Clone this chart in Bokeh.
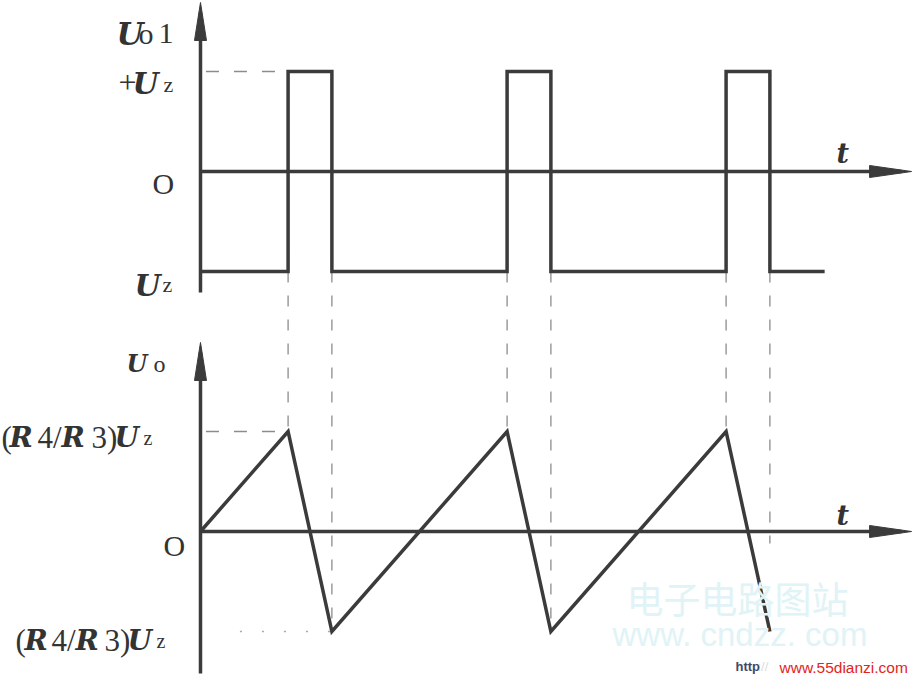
from bokeh.plotting import figure
from bokeh.models import Range1d, ColumnDataSource
from bokeh.embed import file_html
from bokeh.resources import INLINE

# ---------------- data (time in units, voltages in units of Uz / (R4/R3)Uz) -------------
rise_t = [4, 14, 24]
fall_t = [6, 16, 26]
sq_t = [0, 4, 4, 6, 6, 14, 14, 16, 16, 24, 24, 26, 26, 28.5]
sq_v = [-1, -1, 1, 1, -1, -1, 1, 1, -1, -1, 1, 1, -1, -1]
tri_t = [0, 4, 6, 14, 16, 24, 26]
tri_v = [0, 1, -1, 1, -1, 1, -1]
rise_conn_end = [1, 1, 1]
fall_conn_end = [-1, -1, -0.12]

# ---------------- layout --------------------------------------------------------------
W, H = 914, 676
x_start, x_end = -9.132, 32.603
top_start, top_end = -5.05, 1.71
bot_start, bot_end = -1.45, 5.31
ppt = W / (x_end - x_start)
ppv_top = H / (top_end - top_start)
ppv_bot = H / (bot_end - bot_start)

LINE = "#3b3b3b"
DASH = "#8c8c8c"
LW = 3.5

p = figure(width=W, height=H, output_backend="svg", toolbar_location=None,
           x_range=Range1d(x_start, x_end), y_range=Range1d(top_start, top_end),
           min_border=0, min_border_left=0, min_border_right=0,
           min_border_top=0, min_border_bottom=0)
p.extra_y_ranges = {"bot": Range1d(bot_start, bot_end),
                    "refy": Range1d(676, 0)}
p.extra_x_ranges = {"refx": Range1d(0, 914)}
p.axis.visible = False
p.grid.visible = False
p.outline_line_color = None
p.background_fill_color = "white"
p.border_fill_color = "white"

# ---------------- axes with arrows ------------------------------------------------------
top_axis = (-1.21, 1.69)
bot_axis = (-1.42, 1.89)
t_axis_end = 32.47
L_v, hw_v = 38, 6.0
L_h, hh_h = 42, 6.0

# top panel axes
p.line([0, 0], [top_axis[0], top_axis[1] - 10 / ppv_top], line_color=LINE, line_width=LW)
p.line([0, t_axis_end - 10 / ppt], [0, 0], line_color=LINE, line_width=LW)
p.patch([0, -hw_v / ppt, hw_v / ppt],
        [top_axis[1], top_axis[1] - L_v / ppv_top, top_axis[1] - L_v / ppv_top],
        fill_color=LINE, line_color=LINE, line_width=1)
p.patch([t_axis_end, t_axis_end - L_h / ppt, t_axis_end - L_h / ppt],
        [0, hh_h / ppv_top, -hh_h / ppv_top],
        fill_color=LINE, line_color=LINE, line_width=1)

# bottom panel axes
p.line([0, 0], [bot_axis[0], bot_axis[1] - 10 / ppv_bot], line_color=LINE, line_width=LW,
       y_range_name="bot")
p.line([0, t_axis_end - 10 / ppt], [0, 0], line_color=LINE, line_width=LW, y_range_name="bot")
p.patch([0, -hw_v / ppt, hw_v / ppt],
        [bot_axis[1], bot_axis[1] - L_v / ppv_bot, bot_axis[1] - L_v / ppv_bot],
        fill_color=LINE, line_color=LINE, line_width=1, y_range_name="bot")
p.patch([t_axis_end, t_axis_end - L_h / ppt, t_axis_end - L_h / ppt],
        [0, hh_h / ppv_bot, -hh_h / ppv_bot],
        fill_color=LINE, line_color=LINE, line_width=1, y_range_name="bot")

# ---------------- dashed guide lines ----------------------------------------------------
# value of the top panel's -1 level expressed in the bottom panel's range
fy_low = (top_end - (-1)) * ppv_top
low_in_bot = bot_end - fy_low / ppv_bot
p.segment(x0=rise_t, y0=[low_in_bot] * 3, x1=rise_t, y1=rise_conn_end,
          line_color=DASH, line_width=1.3, line_dash="11 13", y_range_name="bot")
p.segment(x0=fall_t, y0=[low_in_bot] * 3, x1=fall_t, y1=fall_conn_end,
          line_color=DASH, line_width=1.3, line_dash="11 13", y_range_name="bot")
p.segment(x0=[0.25], y0=[1], x1=[rise_t[0]], y1=[1],
          line_color=DASH, line_width=1.3, line_dash="13 15")
p.segment(x0=[0.25], y0=[1], x1=[rise_t[0]], y1=[1],
          line_color=DASH, line_width=1.3, line_dash="13 15", y_range_name="bot")
p.segment(x0=[1.8], y0=[-1], x1=[fall_t[0]], y1=[-1],
          line_color="#a8a8a8", line_width=1.3, line_dash="2 20", y_range_name="bot")

# ---------------- waveforms --------------------------------------------------------------
p.line(sq_t, sq_v, line_color=LINE, line_width=LW, line_join="miter")
p.line(tri_t, tri_v, line_color=LINE, line_width=LW, line_join="miter", y_range_name="bot")

# ---------------- texts -------------------------------------------------------------------
SERIF = "Liberation Serif"
DVS = "DejaVu Serif"
SANS = "Liberation Sans"
BI, N = "bold italic", "normal"
INK = "#333333"
pieces = [
    # text, x, baseline, size, style, color, font
    ("U", 116, 33, 31, BI, INK, DVS),
    ("o", 138, 33, 30, N, INK, SERIF),
    ("1", 158, 33, 30, N, INK, SERIF),
    ("+", 118, 82, 32, N, INK, SERIF),
    ("U", 132, 83, 30, BI, INK, DVS),
    ("z", 163, 84, 22, N, INK, SERIF),
    ("O", 152, 183, 30, N, INK, SERIF),
    ("U", 134, 285, 30, BI, INK, DVS),
    ("z", 162, 284, 22, N, INK, SERIF),
    ("t", 836, 153, 27, BI, INK, DVS),
    ("U", 126, 363, 24, BI, INK, DVS),
    ("o", 153, 363, 24, N, INK, SERIF),
    ("(", 1, 437, 31, N, INK, SERIF),
    ("R", 9, 437, 28, BI, INK, DVS),
    ("4/", 37, 437, 31, N, INK, SERIF),
    ("R", 61, 437, 28, BI, INK, DVS),
    ("3)", 91, 437, 31, N, INK, SERIF),
    ("U", 114, 437, 28, BI, INK, DVS),
    ("z", 143, 437, 20, N, INK, SERIF),
    ("(", 15, 640, 31, N, INK, SERIF),
    ("R", 24, 640, 28, BI, INK, DVS),
    ("4/", 51, 640, 31, N, INK, SERIF),
    ("R", 75, 640, 28, BI, INK, DVS),
    ("3)", 104, 640, 31, N, INK, SERIF),
    ("U", 127, 640, 28, BI, INK, DVS),
    ("z", 156, 640, 20, N, INK, SERIF),
    ("O", 163, 545, 30, N, INK, SERIF),
    ("t", 836, 515, 27, BI, INK, DVS),
    ("电子电路图站", 626, 597, 37, N, "#e0f3f6", "Noto Sans CJK SC"),
    ("www. cndzz. com", 612, 634, 33, N, "#e0f3f6", SANS),
    ("http", 735, 666, 13, "bold", "#3f4868", SANS),
    ("://", 757, 666, 13, N, "#dcdcdc", SANS),
    ("www.55dianzi.com", 779, 667, 15.5, N, "#e3241c", SANS),
]
src = ColumnDataSource(dict(
    text=[q[0] for q in pieces],
    x=[q[1] for q in pieces],
    y=[q[2] for q in pieces],
    size=[f"{q[3]}px" for q in pieces],
    style=[q[4] for q in pieces],
    color=[q[5] for q in pieces],
    font=[q[6] for q in pieces],
))
p.text(x="x", y="y", text="text", source=src, text_font="font", text_font_size="size",
       text_font_style="style", text_color="color", text_align="left",
       text_baseline="alphabetic", x_range_name="refx", y_range_name="refy")

open("out.html", "w").write(file_html(p, INLINE))
